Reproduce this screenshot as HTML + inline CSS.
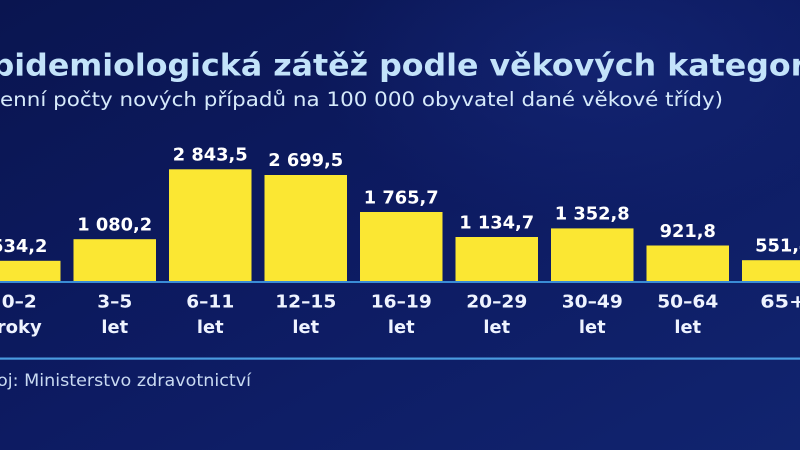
<!DOCTYPE html>
<html><head><meta charset="utf-8"><style>
html,body{margin:0;padding:0;width:800px;height:450px;overflow:hidden;background:#0d1b60;}
svg{display:block}
</style></head><body>
<svg width="800" height="450" viewBox="0 0 800 450" xmlns="http://www.w3.org/2000/svg">
<defs>
<linearGradient id="bg" x1="0" y1="0" x2="1" y2="1">
<stop offset="0" stop-color="#0a1550"/>
<stop offset="0.5" stop-color="#0d1b62"/>
<stop offset="1" stop-color="#11246f"/>
</linearGradient>
<radialGradient id="glow" cx="0.75" cy="0.15" r="0.35">
<stop offset="0" stop-color="#16297a" stop-opacity="0.6"/>
<stop offset="1" stop-color="#16297a" stop-opacity="0"/>
</radialGradient>
</defs>
<rect width="800" height="450" fill="url(#bg)"/>
<rect width="800" height="450" fill="url(#glow)"/>

<text x="-30" y="75.5" textLength="858" lengthAdjust="spacingAndGlyphs" font-family="DejaVu Sans, sans-serif" font-weight="bold" font-size="30" fill="#c3e3fa">Epidemiologická zátěž podle věkových kategorií</text>
<text x="-22" y="106" textLength="745" lengthAdjust="spacingAndGlyphs" font-family="DejaVu Sans, sans-serif" font-size="19.5" fill="#d6eafb">(denní počty nových případů na 100 000 obyvatel dané věkové třídy)</text>

<g fill="#fbe733">
<rect x="-22" y="260.8" width="82.5" height="21.2"/>
<rect x="73.5" y="239.2" width="82.5" height="42.8"/>
<rect x="169" y="169.3" width="82.5" height="112.7"/>
<rect x="264.5" y="175" width="82.5" height="107"/>
<rect x="360" y="212" width="82.5" height="70"/>
<rect x="455.5" y="237" width="82.5" height="45"/>
<rect x="551" y="228.4" width="82.5" height="53.6"/>
<rect x="646.5" y="245.5" width="82.5" height="36.5"/>
<rect x="742" y="260.2" width="82.5" height="21.8"/>
</g>
<rect x="0" y="281" width="800" height="2" fill="#3a8cd6"/>
<rect x="0" y="357.5" width="800" height="2.2" fill="#4a9be0"/>

<g font-family="DejaVu Sans, sans-serif" font-weight="bold" font-size="18" fill="#ffffff" text-anchor="middle">
<text x="19.25" y="252" textLength="56.3" lengthAdjust="spacingAndGlyphs">534,2</text>
<text x="114.75" y="230.5" textLength="74.9" lengthAdjust="spacingAndGlyphs">1 080,2</text>
<text x="210.25" y="160.7" textLength="74.9" lengthAdjust="spacingAndGlyphs">2 843,5</text>
<text x="305.75" y="166.2" textLength="74.9" lengthAdjust="spacingAndGlyphs">2 699,5</text>
<text x="401.25" y="203.3" textLength="74.9" lengthAdjust="spacingAndGlyphs">1 765,7</text>
<text x="496.75" y="228.3" textLength="74.9" lengthAdjust="spacingAndGlyphs">1 134,7</text>
<text x="592.25" y="219.7" textLength="74.9" lengthAdjust="spacingAndGlyphs">1 352,8</text>
<text x="687.75" y="236.8" textLength="56.3" lengthAdjust="spacingAndGlyphs">921,8</text>
<text x="783.25" y="251.5" textLength="56.3" lengthAdjust="spacingAndGlyphs">551,4</text>
</g>

<g font-family="DejaVu Sans, sans-serif" font-weight="bold" font-size="18" fill="#eef3ff" text-anchor="middle">
<text x="19.25" y="307.5" textLength="35" lengthAdjust="spacingAndGlyphs">0–2</text>
<text x="19.25" y="333" textLength="45" lengthAdjust="spacingAndGlyphs">roky</text>
<text x="114.75" y="307.5" textLength="35" lengthAdjust="spacingAndGlyphs">3–5</text>
<text x="114.75" y="333" textLength="26.7" lengthAdjust="spacingAndGlyphs">let</text>
<text x="210.25" y="307.5" textLength="48" lengthAdjust="spacingAndGlyphs">6–11</text>
<text x="210.25" y="333" textLength="26.7" lengthAdjust="spacingAndGlyphs">let</text>
<text x="305.75" y="307.5" textLength="61" lengthAdjust="spacingAndGlyphs">12–15</text>
<text x="305.75" y="333" textLength="26.7" lengthAdjust="spacingAndGlyphs">let</text>
<text x="401.25" y="307.5" textLength="61" lengthAdjust="spacingAndGlyphs">16–19</text>
<text x="401.25" y="333" textLength="26.7" lengthAdjust="spacingAndGlyphs">let</text>
<text x="496.75" y="307.5" textLength="61" lengthAdjust="spacingAndGlyphs">20–29</text>
<text x="496.75" y="333" textLength="26.7" lengthAdjust="spacingAndGlyphs">let</text>
<text x="592.25" y="307.5" textLength="61" lengthAdjust="spacingAndGlyphs">30–49</text>
<text x="592.25" y="333" textLength="26.7" lengthAdjust="spacingAndGlyphs">let</text>
<text x="687.75" y="307.5" textLength="61" lengthAdjust="spacingAndGlyphs">50–64</text>
<text x="687.75" y="333" textLength="26.7" lengthAdjust="spacingAndGlyphs">let</text>
<text x="783.25" y="307.5" textLength="46" lengthAdjust="spacingAndGlyphs">65+</text>
</g>

<text x="-33" y="386" textLength="284" lengthAdjust="spacingAndGlyphs" font-family="DejaVu Sans, sans-serif" font-size="17" fill="#c9daf2">Zdroj: Ministerstvo zdravotnictví</text>
</svg>
</body></html>
